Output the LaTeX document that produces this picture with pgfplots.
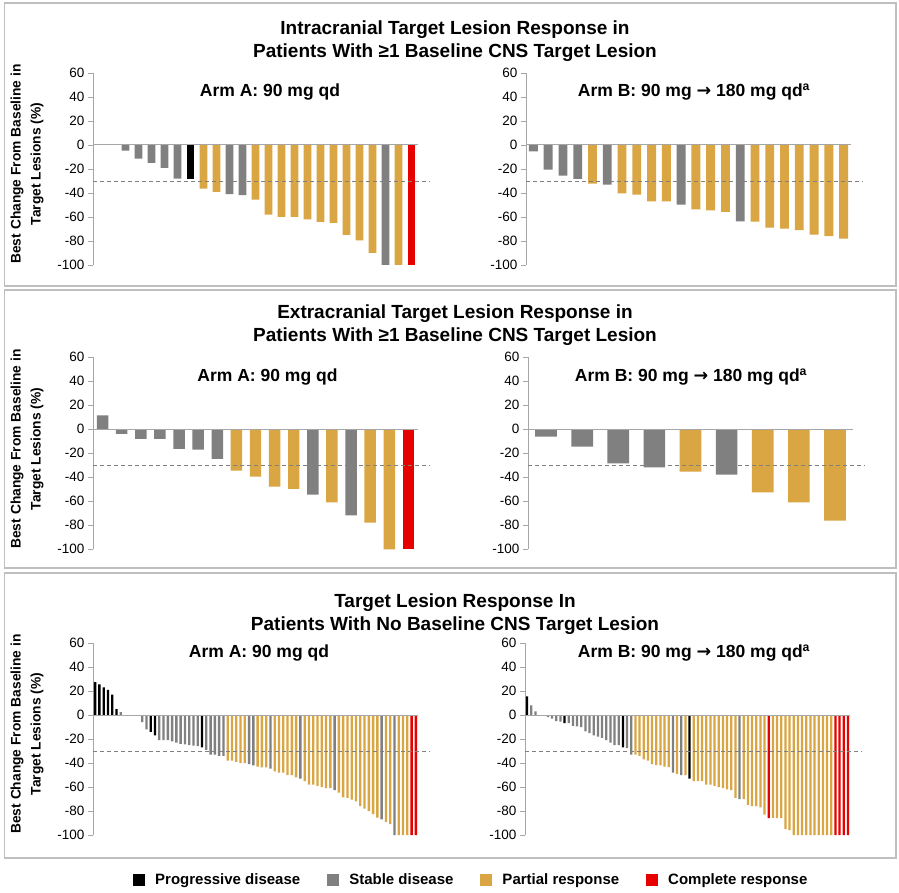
\documentclass[border=0pt]{standalone}
\usepackage{pgfplots}
\pgfplotsset{compat=1.18}
\usepackage{fontspec}
\setmainfont{Liberation Sans}
\newfontfamily\dejavu{DejaVu Sans}
\definecolor{pd}{HTML}{000000}
\definecolor{sd}{HTML}{808080}
\definecolor{pr}{HTML}{DAA543}
\definecolor{cr}{HTML}{E60000}
\definecolor{axisgray}{HTML}{A6A6A6}
\definecolor{dashgray}{HTML}{808080}
\definecolor{boxgray}{HTML}{BFBFBF}
\pgfplotsset{
  wf/.style={
    scale only axis, width=325pt, height=192pt, anchor=south west,
    ymin=-100, ymax=60, ytick={-100,-80,...,60},
    axis y line*=left, axis x line=none,
    xtick=\empty,
    axis line style={draw=axisgray, line width=1pt},
    tick style={draw=axisgray, line width=0.8pt},
    tick align=outside, major tick length=5pt,
    yticklabel style={font=\fontsize{13.5}{14}\selectfont, /pgf/number format/assume math mode=true},
    clip=false, enlargelimits=false,
  },
  bars/.style={ybar, bar width=#1, bar shift=0pt, draw=none},
}
\newcommand{\zeroline}[1]{\draw[axisgray, line width=1pt] (axis cs:-0.5,0) -- (axis cs:#1,0);
  \draw[dashgray, dash pattern=on 4pt off 3pt, line width=0.8pt] (axis cs:-0.5,-30) -- ([xshift=12pt]axis cs:#1,-30);}
\newcommand{\armB}{Arm B: 90 mg {\dejavu\bfseries →} 180 mg qd\textsuperscript{a}}
\begin{document}
\begin{tikzpicture}[x=1pt,y=1pt]
\useasboundingbox (0,0) rectangle (899,892);
\fill[white] (0,0) rectangle (899,892);
\draw[boxgray, line width=1.3pt] (4.5,606) rectangle (896,889);
\draw[boxgray, line width=1.3pt] (4.5,324) rectangle (896,602);
\draw[boxgray, line width=1.3pt] (4.5,34) rectangle (896,319);

\node[font=\fontsize{19}{23}\selectfont\bfseries, align=center] at (455,851) {Intracranial Target Lesion Response in\\Patients With ≥1 Baseline CNS Target Lesion};
\node[font=\fontsize{19}{23}\selectfont\bfseries, align=center] at (455,567) {Extracranial Target Lesion Response in\\Patients With ≥1 Baseline CNS Target Lesion};
\node[font=\fontsize{19}{23}\selectfont\bfseries, align=center] at (455,278) {Target Lesion Response In\\Patients With No Baseline CNS Target Lesion};

\node[rotate=90, align=center, font=\fontsize{13.8}{20}\selectfont\bfseries] at (27,728) {Best Change From Baseline in\\Target Lesions (\%)};
\node[rotate=90, align=center, font=\fontsize{13.8}{20}\selectfont\bfseries] at (27,443) {Best Change From Baseline in\\Target Lesions (\%)};
\node[rotate=90, align=center, font=\fontsize{13.8}{20}\selectfont\bfseries] at (27,158) {Best Change From Baseline in\\Target Lesions (\%)};

\node[font=\fontsize{17.5}{20}\selectfont\bfseries] at (270,800) {Arm A: 90 mg qd};
\node[font=\fontsize{17.5}{20}\selectfont\bfseries] at (694,800) {\armB};
\node[font=\fontsize{17.5}{20}\selectfont\bfseries] at (267.5,515) {Arm A: 90 mg qd};
\node[font=\fontsize{17.5}{20}\selectfont\bfseries] at (691,515) {\armB};
\node[font=\fontsize{17.5}{20}\selectfont\bfseries] at (259,239) {Arm A: 90 mg qd};
\node[font=\fontsize{17.5}{20}\selectfont\bfseries] at (694,239) {\armB};

% ---------- Top left
\begin{axis}[wf, at={(93pt,627pt)}, xmin=-0.5, xmax=24.5]
\addplot[bars=0.6, fill=sd] coordinates {(2,-4.7) (3,-11.4) (4,-15) (5,-19) (6,-28) (10,-41) (11,-41.7) (22,-100)};
\addplot[bars=0.6, fill=pd] coordinates {(7,-28)};
\addplot[bars=0.6, fill=pr] coordinates {(8,-36.4) (9,-39) (12,-45.6) (13,-58) (14,-60) (15,-60) (16,-62) (17,-64) (18,-65) (19,-75) (20,-79.5) (21,-90) (23,-100)};
\addplot[bars=0.6, fill=cr] coordinates {(24,-100)};
\zeroline{24.5}
\end{axis}
% ---------- Top right
\begin{axis}[wf, at={(526pt,627pt)}, xmin=-0.5, xmax=21.5]
\addplot[bars=0.6, fill=sd] coordinates {(0,-5.3) (1,-20.5) (2,-25.6) (3,-28.3) (5,-33) (10,-49.7) (14,-63.6)};
\addplot[bars=0.6, fill=pr] coordinates {(4,-32.2) (6,-40.3) (7,-41.4) (8,-47) (9,-47) (11,-53.6) (12,-54.4) (13,-55.8) (15,-63.9) (16,-68.9) (17,-69.7) (18,-71) (19,-74.7) (20,-76) (21,-78)};
\zeroline{21.5}
\end{axis}
% ---------- Middle left
\begin{axis}[wf, at={(93pt,342.7pt)}, xmin=-0.5, xmax=16.5]
\addplot[bars=0.6, fill=sd] coordinates {(0,11.7) (1,-3.9) (2,-8) (3,-8) (4,-16.4) (5,-17) (6,-24.7) (11,-54.4) (13,-71.7)};
\addplot[bars=0.6, fill=pr] coordinates {(7,-34.4) (8,-39.4) (9,-47.8) (10,-49.7) (12,-61) (14,-77.8) (15,-100)};
\addplot[bars=0.6, fill=cr] coordinates {(16,-100)};
\zeroline{16.5}
\end{axis}
% ---------- Middle right
\begin{axis}[wf, at={(528pt,342.7pt)}, xmin=-0.5, xmax=8.5]
\addplot[bars=0.6, fill=sd] coordinates {(0,-6.1) (1,-14.4) (2,-28.3) (3,-31.7) (5,-37.8)};
\addplot[bars=0.6, fill=pr] coordinates {(4,-35.3) (6,-52.5) (7,-60.8) (8,-76.1)};
\zeroline{8.5}
\end{axis}
% ---------- Bottom left
\begin{axis}[wf, at={(93pt,57pt)}, xmin=-0.5, xmax=75.5,
  legend columns=4,
  legend style={at={(1.164,-0.234)}, anchor=center, draw=none, fill=none,
    font=\fontsize{15}{17}\selectfont\bfseries,
    /tikz/every odd column/.append style={column sep=8pt},
    /tikz/every even column/.append style={column sep=25pt}},
  legend image code/.code={\fill[#1] (0pt,-6pt) rectangle (12pt,6pt);}]
\addplot[bars=0.55, fill=pd] coordinates {(0,27.5) (1,25.5) (2,23) (3,21) (4,17) (5,5) (13,-14) (14,-17) (25,-27)};
\addlegendentry{Progressive disease}
\addplot[bars=0.55, fill=sd] coordinates {(6,2.5) (11,-6) (12,-12) (15,-21) (16,-21) (17,-21) (18,-22) (19,-23) (20,-24) (21,-24.5) (22,-25) (23,-25.5) (24,-26) (26,-29) (27,-33) (28,-33) (29,-34) (30,-34) (36,-41) (37,-42) (41,-44.7) (48,-53) (56,-62.5) (67,-87) (70,-100)};
\addlegendentry{Stable disease}
\addplot[bars=0.55, fill=pr] coordinates {(31,-38) (32,-38) (33,-39) (34,-40) (35,-40) (38,-43) (39,-43.6) (40,-43.6) (42,-47) (43,-48) (44,-48) (45,-50) (46,-50) (47,-52) (49,-55) (50,-58) (51,-58) (52,-59) (53,-60) (54,-61) (55,-61) (57,-64.7) (58,-68.6) (59,-69) (60,-70.5) (61,-72) (62,-76) (63,-78) (64,-80) (65,-82.5) (66,-85.5) (68,-89) (69,-91) (71,-100) (72,-100) (73,-100)};
\addlegendentry{Partial response}
\addplot[bars=0.55, fill=cr] coordinates {(74,-100) (75,-100)};
\addlegendentry{Complete response}
\zeroline{75.5}
\end{axis}
% ---------- Bottom right
\begin{axis}[wf, at={(525pt,57pt)}, xmin=-0.5, xmax=77.5]
\addplot[bars=0.55, fill=pd] coordinates {(0,15.5) (9,-6.7) (23,-27) (39,-53)};
\addplot[bars=0.55, fill=sd] coordinates {(1,8) (2,3) (5,-1.7) (6,-3) (7,-5) (8,-5.5) (10,-6.7) (11,-9) (12,-9.5) (13,-10) (14,-13.6) (15,-15) (16,-17) (17,-18) (18,-19) (19,-21) (20,-23) (21,-25) (22,-25) (24,-27.5) (25,-33) (35,-48) (37,-50) (51,-70)};
\addplot[bars=0.55, fill=pr] coordinates {(26,-33) (27,-34) (28,-37) (29,-38) (30,-41) (31,-41.7) (32,-42) (33,-43) (34,-43.5) (36,-49) (38,-50) (40,-55) (41,-55) (42,-55) (43,-58) (44,-58) (45,-59) (46,-60) (47,-61) (48,-62) (49,-62.5) (50,-69) (52,-70) (53,-75) (54,-76) (55,-76) (56,-77) (57,-83) (59,-86) (60,-86) (61,-86) (62,-95) (63,-96) (64,-100) (65,-100) (66,-100) (67,-100) (68,-100) (69,-100) (70,-100) (71,-100) (72,-100) (73,-100)};
\addplot[bars=0.55, fill=cr] coordinates {(58,-86) (74,-100) (75,-100) (76,-100) (77,-100)};
\zeroline{77.5}
\end{axis}
\end{tikzpicture}
\end{document}
